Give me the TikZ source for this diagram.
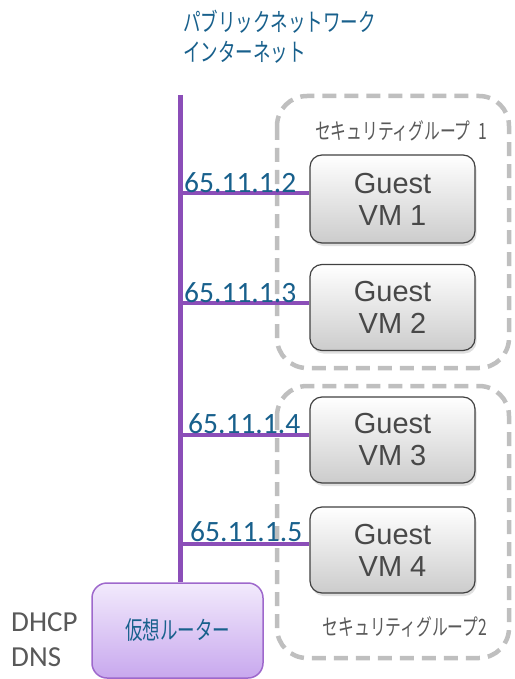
\documentclass[tikz,border=0pt]{standalone}
\usepackage{fontspec}
\usetikzlibrary{shadows}
\newfontfamily\jpf[FakeStretch=0.7]{Noto Sans CJK JP}
\newfontfamily\calf{Carlito}
\newfontfamily\arf{Liberation Sans}
\definecolor{tblue}{RGB}{24,96,140}
\definecolor{bus}{RGB}{139,78,184}
\definecolor{dgray}{RGB}{89,89,89}
\definecolor{grpgray}{RGB}{191,191,191}
\definecolor{vmtext}{RGB}{72,72,72}
\definecolor{rtop}{RGB}{242,234,252}
\definecolor{rbot}{RGB}{200,168,238}
\definecolor{rbord}{RGB}{158,104,204}
\tikzset{
  vm/.style={draw=vmtext!90!black, line width=1.2pt, rounded corners=12pt,
    top color=white, bottom color=black!20, minimum width=165pt,
    font=\arf\fontsize{29}{32}\selectfont, text=vmtext, align=center,
    drop shadow={opacity=0.25, shadow xshift=1.5pt, shadow yshift=-3pt}},
  grp/.style={draw=grpgray, line width=4.5pt, dash pattern=on 14pt off 8pt, rounded corners=30pt},
  busline/.style={draw=bus, line width=5pt},
  tap/.style={draw=bus, line width=3.5pt},
  ip/.style={anchor=base west, text=tblue, font=\calf\fontsize{29.5}{30}\selectfont, inner sep=0pt},
  glabel/.style={text=dgray, font=\jpf\fontsize{22.5}{24}\selectfont},
  router/.style={draw=rbord, line width=1.5pt, rounded corners=15pt, top color=rtop, bottom color=rbot,
    minimum width=171pt, minimum height=95pt, text=tblue, font=\jpf\fontsize{25}{27}\selectfont},
}
\begin{document}
\begin{tikzpicture}[x=1pt,y=-1pt]
\useasboundingbox (0,0) rectangle (514,679);
% groups
\draw[grp] (277,96) rectangle (509,368);
\draw[grp] (277,386) rectangle (509,658);
\node[glabel] (g1) at (401,131) {セキュリティグループ\,\,1};
\node[glabel] (g2) at (405,627) {セキュリティグループ2};
% title
\node[anchor=west, inner sep=0pt, text=tblue, align=left,
  font=\jpf\fontsize{25}{30}\selectfont] (title) at (183,37) {パブリックネットワーク\\インターネット};
% router
\node[router] (router) at (177.5,630.5) {仮想ルーター};
\node[anchor=west, text=dgray, align=left, font=\calf\fontsize{29}{35}\selectfont, inner sep=0pt] (dhcp) at (11,640) {DHCP\\DNS};
% VMs
\node[vm, minimum height=88pt] (vm1) at (392.5,199) {Guest\\VM 1};
\node[vm, minimum height=86pt] (vm2) at (392.5,307.5) {Guest\\VM 2};
\node[vm, minimum height=86pt] (vm3) at (392.5,440) {Guest\\VM 3};
\node[vm, minimum height=86pt] (vm4) at (392.5,550) {Guest\\VM 4};
% bus
\coordinate (top) at (180,95);
\draw[busline] (top) -- (top |- router.north);
\coordinate (t1) at (180,193);
\coordinate (t2) at (180,303);
\coordinate (t3) at (180,435);
\coordinate (t4) at (180,544);
\draw[tap] (t1) -- (t1 -| vm1.west);
\draw[tap] (t2) -- (t2 -| vm2.west);
\draw[tap] (t3) -- (t3 -| vm3.west);
\draw[tap] (t4) -- (t4 -| vm4.west);
% IP labels
\node[ip] (ip1) at (184,192) {65.11.1.2};
\node[ip] (ip2) at (184,302) {65.11.1.3};
\node[ip] (ip3) at (188,433) {65.11.1.4};
\node[ip] (ip4) at (190,541) {65.11.1.5};
\end{tikzpicture}
\end{document}
